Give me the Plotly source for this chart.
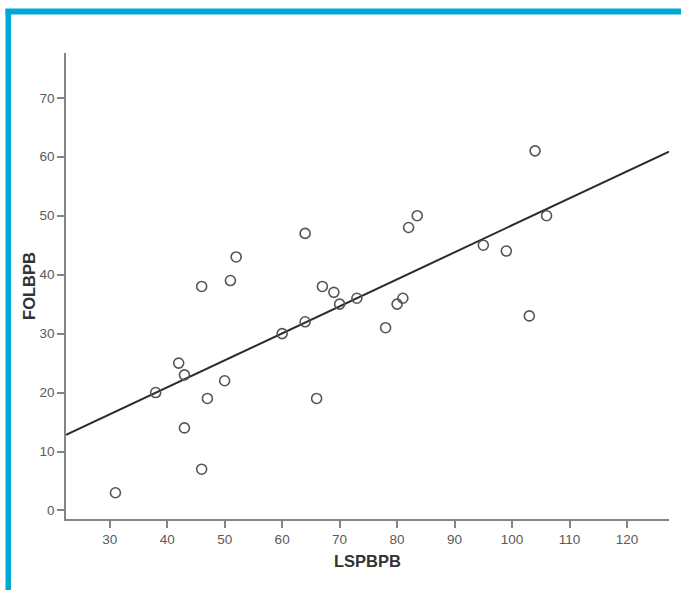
import numpy as np
import plotly.graph_objects as go

lspbpb = [31, 38, 42, 43, 43, 46, 46, 47, 50, 51, 52, 60, 64, 64, 66, 67, 69, 70, 73,
          78, 80, 81, 82, 83.5, 95, 99, 103, 104, 106]
folbpb = [3, 20, 25, 23, 14, 38, 7, 19, 22, 39, 43, 30, 47, 32, 19, 38, 37, 35, 36,
          31, 35, 36, 48, 50, 45, 44, 33, 61, 50]
x_ticks = [30, 40, 50, 60, 70, 80, 90, 100, 110, 120]
y_ticks = [0, 10, 20, 30, 40, 50, 60, 70]

W, H = 681, 590
ML, MR, MT, MB = 66, 12, 53, 71
x_range = [22.4, 127.3]
y_range = [-1.45, 77.6]

slope, intercept = np.polyfit(lspbpb, folbpb, 1)
fit_x = np.array(x_range)
fit_y = intercept + slope * fit_x

fig = go.Figure()
fig.add_trace(go.Scatter(x=fit_x, y=fit_y, mode="lines",
                         line=dict(color="#2b2b2b", width=2), showlegend=False, hoverinfo="skip"))
fig.add_trace(go.Scatter(x=lspbpb, y=folbpb, mode="markers",
                         marker=dict(symbol="circle-open", size=10, color="#555555",
                                     line=dict(width=1.6, color="#555555")),
                         showlegend=False))

pw = W - ML - MR
ph = H - MT - MB
def px2paperx(px):
    return (px - ML) / pw
def py2papery(py):
    return (H - MB - py) / ph

blue = "#00A8D5"
fig.add_shape(type="rect", xref="paper", yref="paper",
              x0=px2paperx(5.5), x1=px2paperx(W + 5), y0=py2papery(14.5), y1=py2papery(8.5),
              fillcolor=blue, line=dict(width=0), layer="above")
fig.add_shape(type="rect", xref="paper", yref="paper",
              x0=px2paperx(5.5), x1=px2paperx(11), y0=py2papery(H + 5), y1=py2papery(9),
              fillcolor=blue, line=dict(width=0), layer="above")

font_fam = "Liberation Sans, Arial, sans-serif"
axis_common = dict(showgrid=False, zeroline=False, showline=True, linecolor="#858585",
                   linewidth=1.5, ticks="outside", tickcolor="#858585", ticklen=7, tickwidth=1.5,
                   tickfont=dict(family=font_fam, size=13.5, color="#5a5a5a"))

fig.update_layout(
    width=W, height=H,
    margin=dict(l=ML, r=MR, t=MT, b=MB),
    paper_bgcolor="white", plot_bgcolor="white",
    xaxis=dict(range=x_range, tickvals=x_ticks, ticktext=[str(v) for v in x_ticks],
               title=dict(text="<b>LSPBPB</b>", standoff=9,
                          font=dict(family=font_fam, size=16.5, color="#333333")),
               **axis_common),
    yaxis=dict(range=y_range, tickvals=y_ticks, ticktext=[str(v) for v in y_ticks],
               title=dict(text="<b>FOLBPB</b>", standoff=0,
                          font=dict(family=font_fam, size=16.5, color="#333333")),
               **axis_common),
)

fig.write_html("out.html", config={"displayModeBar": False},
               post_script="document.body.style.margin='0';")
